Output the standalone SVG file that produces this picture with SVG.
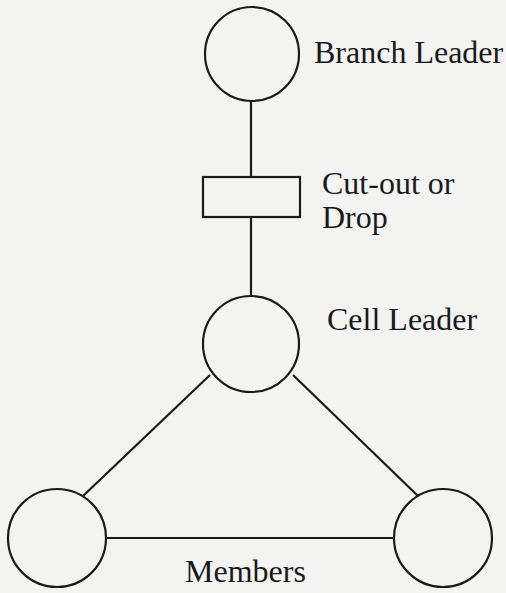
<svg xmlns="http://www.w3.org/2000/svg" width="506" height="593" viewBox="0 0 506 593">
<style>
.n{fill:none;stroke:#1a1a1a;stroke-width:2.2}
.c line{stroke:#1a1a1a;stroke-width:2.2}
.t{font-size:32px;fill:#1a1a1a}
</style>
<rect width="506" height="593" fill="#f3f3f2"/>
<g class="c" id="connectors">
<line x1="251" y1="101" x2="251" y2="177"/>
<line x1="251" y1="217" x2="251" y2="296"/>
<line x1="210" y1="375" x2="83" y2="496"/>
<line x1="293" y1="375" x2="418" y2="496"/>
<line x1="107" y1="538" x2="394" y2="538"/>
</g>
<g font-family="Liberation Serif, Times New Roman, Times, serif">
<g id="branch-leader">
<circle class="n" cx="252" cy="54" r="47"/>
<text class="t" x="314" y="63">Branch Leader</text>
</g>
<g id="cut-out">
<rect class="n" x="203" y="177" width="97" height="40"/>
<text class="t" x="322" y="194">Cut-out or</text>
<text class="t" x="322" y="228">Drop</text>
</g>
<g id="cell-leader">
<circle class="n" cx="251" cy="344" r="48"/>
<text class="t" x="327" y="330">Cell Leader</text>
</g>
<g id="member-left">
<circle class="n" cx="57" cy="538" r="49"/>
</g>
<g id="member-right">
<circle class="n" cx="443" cy="538" r="49"/>
</g>
<text class="t" x="185" y="582">Members</text>
</g>
</svg>
